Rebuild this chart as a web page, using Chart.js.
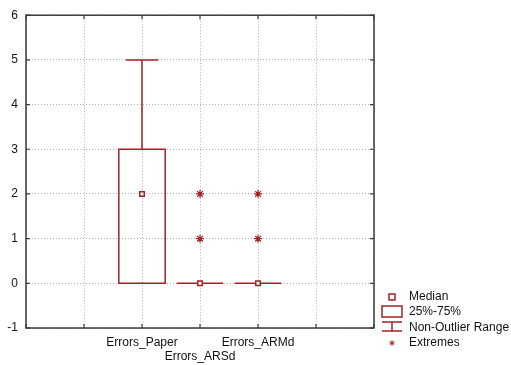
<!DOCTYPE html>
<html>
<head>
<meta charset="utf-8">
<script src="https://cdn.jsdelivr.net/npm/chart.js@4/dist/chart.umd.min.js"></script>
<style>
  html, body { margin: 0; padding: 0; background: #fff; }
</style>
</head>
<body>
<canvas id="box-chart" width="511" height="365"></canvas>
<script>
// box plot values
var categories = ['Errors_Paper', 'Errors_ARSd', 'Errors_ARMd'];
var positions = [2, 3, 4];
var medians = [2, 0, 0];
var q1 = [0, 0, 0];
var q3 = [3, 0, 0];
var whiskerLow = [0, 0, 0];
var whiskerHigh = [5, 0, 0];
var extremes = [[], [1, 2], [1, 2]];
var legendLabels = ['Median', '25%-75%', 'Non-Outlier Range', 'Extremes'];

var RED = 'rgb(165,32,38)';
var FRAME = '#3a3a3a';

var medianPoints = [];
var extremePoints = [];
for (var i = 0; i < categories.length; i++) {
    medianPoints.push({x: positions[i], y: medians[i]});
    for (var j = 0; j < extremes[i].length; j++) {
        extremePoints.push({x: positions[i], y: extremes[i][j]});
    }
}

Chart.defaults.font.family = '"Liberation Sans", Arial, sans-serif';
Chart.defaults.font.size = 12;
Chart.defaults.color = '#111';

// boxes, whiskers, frame with inner ticks, and the legend
var boxPlugin = {
    id: 'boxes',
    beforeDatasetsDraw: function(chart) {
        var ctx = chart.ctx;
        var xs = chart.scales.x, ys = chart.scales.y;
        var unit = xs.getPixelForValue(1) - xs.getPixelForValue(0);
        var half = unit * 0.4, capHalf = unit * 0.28;
        ctx.save();
        ctx.strokeStyle = RED;
        ctx.lineWidth = 1.5;
        for (var i = 0; i < categories.length; i++) {
            var cx = xs.getPixelForValue(positions[i]);
            var top = ys.getPixelForValue(q3[i]);
            var bot = ys.getPixelForValue(q1[i]);
            var wh = ys.getPixelForValue(whiskerHigh[i]);
            var wl = ys.getPixelForValue(whiskerLow[i]);
            ctx.beginPath();
            if (whiskerHigh[i] > q3[i]) {
                ctx.moveTo(cx, top); ctx.lineTo(cx, wh);
                ctx.moveTo(cx - capHalf, wh); ctx.lineTo(cx + capHalf, wh);
            }
            if (whiskerLow[i] < q1[i]) {
                ctx.moveTo(cx, bot); ctx.lineTo(cx, wl);
                ctx.moveTo(cx - capHalf, wl); ctx.lineTo(cx + capHalf, wl);
            }
            ctx.stroke();
            ctx.beginPath();
            if (top === bot) {
                ctx.moveTo(cx - half, top); ctx.lineTo(cx + half, top);
            } else {
                ctx.rect(cx - half, top, half * 2, bot - top);
            }
            ctx.stroke();
        }
        ctx.restore();
    },
    afterDraw: function(chart) {
        var ctx = chart.ctx;
        var a = chart.chartArea;
        var xs = chart.scales.x, ys = chart.scales.y;
        ctx.save();
        ctx.strokeStyle = FRAME;
        ctx.lineWidth = 1.5;
        ctx.strokeRect(a.left, a.top, a.right - a.left, a.bottom - a.top);
        ctx.lineWidth = 1.2;
        ctx.beginPath();
        ys.ticks.forEach(function(t) {
            var y = ys.getPixelForValue(t.value);
            ctx.moveTo(a.left, y); ctx.lineTo(a.left + 4, y);
            ctx.moveTo(a.right, y); ctx.lineTo(a.right - 4, y);
        });
        xs.ticks.forEach(function(t) {
            var x = xs.getPixelForValue(t.value);
            ctx.moveTo(x, a.bottom); ctx.lineTo(x, a.bottom - 4);
            ctx.moveTo(x, a.top); ctx.lineTo(x, a.top + 4);
        });
        ctx.stroke();

        // legend
        var ix = 392, tx = 409;
        var rows = [297, 312, 328, 343];
        ctx.strokeStyle = RED;
        ctx.lineWidth = 1.5;
        ctx.fillStyle = '#fff';
        ctx.fillRect(ix - 3, rows[0] - 3, 6, 6);
        ctx.strokeRect(ix - 3, rows[0] - 3, 6, 6);
        ctx.strokeRect(ix - 10, rows[1] - 6, 20, 11);
        ctx.beginPath();
        ctx.moveTo(ix - 10, rows[2] - 6); ctx.lineTo(ix + 10, rows[2] - 6);
        ctx.moveTo(ix, rows[2] - 6); ctx.lineTo(ix, rows[2] + 3);
        ctx.moveTo(ix - 10, rows[2] + 3); ctx.lineTo(ix + 10, rows[2] + 3);
        ctx.stroke();
        ctx.lineWidth = 1;
        ctx.beginPath();
        var r = 2.5;
        ctx.moveTo(ix - r, rows[3]); ctx.lineTo(ix + r, rows[3]);
        ctx.moveTo(ix, rows[3] - r); ctx.lineTo(ix, rows[3] + r);
        ctx.moveTo(ix - r * 0.7, rows[3] - r * 0.7); ctx.lineTo(ix + r * 0.7, rows[3] + r * 0.7);
        ctx.moveTo(ix - r * 0.7, rows[3] + r * 0.7); ctx.lineTo(ix + r * 0.7, rows[3] - r * 0.7);
        ctx.stroke();
        ctx.fillStyle = '#111';
        ctx.font = '12px "Liberation Sans", Arial, sans-serif';
        ctx.textBaseline = 'middle';
        ctx.textAlign = 'left';
        for (var k = 0; k < legendLabels.length; k++) {
            ctx.fillText(legendLabels[k], tx, rows[k]);
        }
        ctx.restore();
    }
};

new Chart(document.getElementById('box-chart'), {
    type: 'scatter',
    data: {
        datasets: [
            {
                label: 'Extremes',
                data: extremePoints,
                pointStyle: 'star',
                pointRadius: 4,
                borderColor: RED,
                borderWidth: 1.2,
                backgroundColor: RED
            },
            {
                label: 'Median',
                data: medianPoints,
                pointStyle: 'rect',
                pointRadius: 3.2,
                borderColor: RED,
                borderWidth: 1.5,
                backgroundColor: '#fff'
            }
        ]
    },
    options: {
        responsive: false,
        animation: false,
        devicePixelRatio: 1,
        layout: { padding: { top: 13, right: 137, left: 0, bottom: 0 } },
        plugins: {
            legend: { display: false },
            tooltip: { enabled: false }
        },
        scales: {
            x: {
                type: 'linear',
                min: 0,
                max: 6,
                ticks: {
                    stepSize: 1,
                    autoSkip: false,
                    maxRotation: 0,
                    padding: 7,
                    callback: function(value) {
                        var idx = positions.indexOf(value);
                        if (idx < 0) return '';
                        return idx === 1 ? ['', categories[idx]] : categories[idx];
                    }
                },
                grid: { color: '#b0b0b0', lineWidth: 1, drawTicks: false },
                border: { display: false, dash: [1, 2] },
                afterFit: function(scale) { scale.height = 37; }
            },
            y: {
                min: -1,
                max: 6,
                ticks: { stepSize: 1, padding: 8 },
                grid: { color: '#b0b0b0', lineWidth: 1, drawTicks: false },
                border: { display: false, dash: [1, 2] },
                afterFit: function(scale) { scale.width = 26; }
            }
        }
    },
    plugins: [boxPlugin]
});
</script>
</body>
</html>
